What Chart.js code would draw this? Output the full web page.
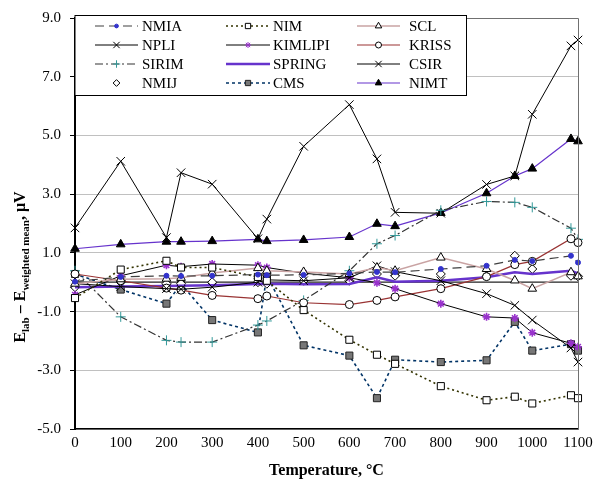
<!DOCTYPE html>
<html>
<head>
<meta charset="utf-8">
<script src="https://cdn.jsdelivr.net/npm/chart.js"></script>
<style>
    html, body { margin: 0; padding: 0; background: #fff; }
    #wrap { width: 601px; height: 482px; }
</style>
</head>
<body>
<div id="wrap"><canvas id="chart" width="601" height="482"></canvas></div>
<script>
// fixed points and intermediate temperatures, degC
var temps = [0, 100, 200, 231.9, 300, 400, 419.5, 500, 600, 660.3, 700, 800, 900, 961.8, 1000, 1084.6, 1100];

var labNames = ['NMIA', 'NIM', 'SCL', 'NPLI', 'KIMLIPI', 'KRISS', 'SIRIM', 'SPRING', 'CSIR', 'NMIJ', 'CMS', 'NIMT'];

// E_lab - E_weighted mean, uV
var nmia    = [0.02, 0.18, 0.22, 0.21, 0.22, 0.26, 0.24, 0.25, 0.3, 0.35, 0.34, 0.45, 0.56, 0.76, 0.72, 0.9, 0.67];
var nim     = [-0.54, 0.43, 0.73, 0.5, 0.5, 0.18, 0.05, -0.95, -1.96, -2.47, -2.78, -3.54, -4.02, -3.9, -4.13, -3.85, -3.95];
var scl     = [-0.05, 0.1, 0.12, 0.15, 0.31, 0.48, 0.39, 0.35, 0.28, 0.5, 0.39, 0.84, 0.45, 0.06, -0.22, 0.34, 0.2];
var npli    = [-0.05, -0.15, -0.22, -0.24, -0.17, 0.0, 0.08, 0.05, 0.15, 0.56, 0.36, 0.05, -0.39, -0.79, -1.29, -2.24, -2.72];
var kimlipi = [-0.43, 0.22, 0.58, 0.53, 0.62, 0.58, 0.5, 0.31, 0.15, -0.02, -0.22, -0.73, -1.18, -1.22, -1.72, -2.08, -2.2];
var kriss   = [0.28, 0.05, -0.2, -0.27, -0.45, -0.56, -0.47, -0.7, -0.76, -0.62, -0.5, -0.22, 0.19, 0.6, 0.71, 1.48, 1.35];
var sirim   = [0.39, -1.18, -1.98, -2.04, -2.04, -1.46, -1.32, -0.62, 0.39, 1.31, 1.59, 2.45, 2.75, 2.72, 2.55, 1.84, 1.46];
var spring  = [-0.17, -0.15, -0.13, -0.12, -0.1, -0.06, -0.05, -0.07, -0.06, 0.17, 0.02, 0.05, 0.17, 0.34, 0.28, 0.39, 0.3];
var csir    = [1.85, 4.12, 1.52, 3.73, 3.34, 1.48, 2.15, 4.63, 6.05, 4.2, 2.38, 2.35, 3.33, 3.62, 5.72, 8.05, 8.25];
var nmij    = [-0.17, 0.05, -0.05, -0.05, 0.0, 0.0, -0.05, 0.05, 0.05, 0.28, 0.22, 0.28, 0.2, 0.9, 0.45, 0.22, 0.2];
var cms     = [0.28, -0.25, -0.73, -0.06, -1.29, -1.71, 0.22, -2.15, -2.5, -3.95, -2.64, -2.72, -2.66, -1.35, -2.33, -2.11, -2.33];
var nimt    = [1.14, 1.29, 1.38, 1.38, 1.4, 1.46, 1.4, 1.44, 1.54, 1.99, 1.91, 2.36, 3.03, 3.62, 3.87, 4.88, 4.8];

var seriesValues = [nmia, nim, scl, npli, kimlipi, kriss, sirim, spring, csir, nmij, cms, nimt];

var xTicks = [0, 100, 200, 300, 400, 500, 600, 700, 800, 900, 1000, 1100];
var yTicks = [-5, -3, -1, 1, 3, 5, 7, 9];

var SERIF = "'Liberation Serif', 'Times New Roman', serif";

// line / marker look per lab
var styles = {
    NMIA:    { line: '#404040', width: 1.2, dash: [9, 5], pt: 'circle', r: 2.5, fill: '#3333cc', stroke: '#3333cc' },
    NIM:     { line: '#333300', width: 1.6, dash: [2, 3], pt: 'rect', r: 5, fill: '#fff', stroke: '#000' },
    SCL:     { line: '#c9a3a3', width: 1.5, dash: [], pt: 'triangle', r: 5, fill: '#fff', stroke: '#000' },
    NPLI:    { line: '#000', width: 1, dash: [], pt: 'crossRot', r: 6, fill: '#000', stroke: '#000' },
    KIMLIPI: { line: '#000', width: 1, dash: [], pt: 'star', r: 4, fill: '#9933cc', stroke: '#9933cc' },
    KRISS:   { line: '#993333', width: 1.2, dash: [], pt: 'circle', r: 4, fill: '#fff', stroke: '#000' },
    SIRIM:   { line: '#333', width: 1.2, dash: [8, 3, 2, 3], pt: 'cross', r: 5, fill: '#339999', stroke: '#339999' },
    SPRING:  { line: '#6633cc', width: 2.5, dash: [], pt: false, r: 0 },
    CSIR:    { line: '#000', width: 1, dash: [], pt: 'crossRot', r: 6, fill: '#000', stroke: '#000' },
    NMIJ:    { line: null, pt: 'rectRot', r: 4.5, fill: '#fff', stroke: '#000' },
    CMS:     { line: '#003366', width: 1.6, dash: [3, 3], pt: 'rect', r: 5, fill: '#777', stroke: '#222' },
    NIMT:    { line: '#6633cc', width: 1.2, dash: [], pt: 'triangle', r: 5, fill: '#000', stroke: '#000' }
};

var datasets = labNames.map(function (name, i) {
    var s = styles[name];
    return {
        label: name,
        data: temps.map(function (t, k) { return { x: t, y: seriesValues[i][k] }; }),
        showLine: !!s.line,
        borderColor: s.line || '#000',
        borderWidth: s.width || 1,
        borderDash: s.dash || [],
        tension: 0,
        pointStyle: s.pt || 'circle',
        pointRadius: s.pt ? s.r : 0,
        pointBackgroundColor: s.fill,
        pointBorderColor: s.stroke,
        pointBorderWidth: s.pt === 'star' ? 1.6 : 1,
        clip: false
    };
});

function marker(ctx, style, x, y, r) {
    var d = r * Math.SQRT1_2;
    ctx.beginPath();
    switch (style) {
        case 'circle':
            ctx.arc(x, y, r, 0, 2 * Math.PI);
            break;
        case 'rect':
            ctx.rect(x - d, y - d, 2 * d, 2 * d);
            break;
        case 'rectRot':
            ctx.moveTo(x, y - r); ctx.lineTo(x + r, y); ctx.lineTo(x, y + r); ctx.lineTo(x - r, y); ctx.closePath();
            break;
        case 'triangle':
            ctx.moveTo(x, y - r); ctx.lineTo(x + r * 0.87, y + r * 0.5); ctx.lineTo(x - r * 0.87, y + r * 0.5); ctx.closePath();
            break;
        case 'cross':
            ctx.moveTo(x - r, y); ctx.lineTo(x + r, y); ctx.moveTo(x, y - r); ctx.lineTo(x, y + r);
            ctx.stroke(); return;
        case 'crossRot':
            ctx.moveTo(x - d, y - d); ctx.lineTo(x + d, y + d); ctx.moveTo(x + d, y - d); ctx.lineTo(x - d, y + d);
            ctx.stroke(); return;
        case 'star':
            ctx.moveTo(x - r, y); ctx.lineTo(x + r, y); ctx.moveTo(x, y - r); ctx.lineTo(x, y + r);
            ctx.moveTo(x - d, y - d); ctx.lineTo(x + d, y + d); ctx.moveTo(x + d, y - d); ctx.lineTo(x - d, y + d);
            ctx.stroke(); return;
    }
    ctx.fill();
    ctx.stroke();
}

var decor = {
    id: 'decor',
    beforeDatasetsDraw: function (chart) {
        var ctx = chart.ctx, a = chart.chartArea;
        var y0 = chart.scales.y.getPixelForValue(0);
        ctx.save();
        ctx.strokeStyle = '#222';
        ctx.lineWidth = 1.3;
        ctx.beginPath();
        ctx.moveTo(a.left, y0);
        ctx.lineTo(a.right, y0);
        ctx.stroke();
        ctx.restore();
    },
    afterDraw: function (chart) {
        var ctx = chart.ctx, a = chart.chartArea;
        ctx.save();

        // top and right frame
        ctx.strokeStyle = '#707070';
        ctx.lineWidth = 1;
        ctx.beginPath();
        ctx.moveTo(a.left, a.top + 0.5);
        ctx.lineTo(a.right + 0.5, a.top + 0.5);
        ctx.lineTo(a.right + 0.5, a.bottom);
        ctx.stroke();

        // legend box
        var bx = a.left, by = 15.5, bw = 391.5, bh = 80;
        ctx.fillStyle = '#fff';
        ctx.fillRect(bx, by, bw, bh);
        ctx.strokeStyle = '#000';
        ctx.strokeRect(bx, by, bw, bh);

        var cols = [{ l0: 95, l1: 138, tx: 142 }, { l0: 226, l1: 270, tx: 273 }, { l0: 357, l1: 400, tx: 409 }];
        ctx.font = '15px ' + SERIF;
        ctx.textBaseline = 'alphabetic';
        ctx.textAlign = 'left';
        labNames.forEach(function (name, i) {
            var s = styles[name];
            var c = cols[i % 3];
            var ry = 26 + Math.floor(i / 3) * 19;
            if (s.line) {
                ctx.strokeStyle = s.line;
                ctx.lineWidth = s.width;
                ctx.setLineDash(s.dash);
                ctx.beginPath();
                ctx.moveTo(c.l0, ry);
                ctx.lineTo(c.l1, ry);
                ctx.stroke();
                ctx.setLineDash([]);
            }
            if (s.pt) {
                ctx.fillStyle = s.fill;
                ctx.strokeStyle = s.stroke;
                ctx.lineWidth = 1;
                marker(ctx, s.pt, (c.l0 + c.l1) / 2, ry, s.r * 0.75);
            }
            ctx.fillStyle = '#000';
            ctx.fillText(name, c.tx, ry + 5);
        });

        // x axis title
        ctx.fillStyle = '#000';
        ctx.font = 'bold 16px ' + SERIF;
        ctx.textAlign = 'center';
        ctx.fillText('Temperature, \u00b0C', (a.left + a.right) / 2, 475);

        // y axis title with subscripts
        var parts = [
            ['E', 16, 0], ['lab', 11, 4], [' \u2013 E', 16, 0], ['weighted mean', 11, 4], [', \u03bcV', 16, 0]
        ];
        var total = 0;
        parts.forEach(function (p) {
            ctx.font = 'bold ' + p[1] + 'px ' + SERIF;
            p.push(ctx.measureText(p[0]).width);
            total += p[3];
        });
        ctx.translate(20, 267);
        ctx.rotate(-Math.PI / 2);
        ctx.textAlign = 'left';
        var px = -total / 2;
        parts.forEach(function (p) {
            ctx.font = 'bold ' + p[1] + 'px ' + SERIF;
            ctx.fillText(p[0], px, 5 + p[2]);
            px += p[3];
        });
        ctx.restore();
    }
};

var chart = new Chart(document.getElementById('chart'), {
    type: 'line',
    data: { datasets: datasets },
    options: {
        responsive: false,
        animation: false,
        devicePixelRatio: 1,
        layout: { padding: { left: 0, right: 23, top: 13, bottom: 0 }, autoPadding: false },
        plugins: {
            legend: { display: false },
            tooltip: { enabled: false }
        },
        scales: {
            x: {
                type: 'linear',
                min: 0,
                max: 1100,
                afterBuildTicks: function (scale) {
                    scale.ticks = xTicks.map(function (v) { return { value: v }; });
                },
                afterFit: function (scale) { scale.height = 53; },
                grid: { display: false, drawTicks: false },
                border: { color: '#000', width: 1.5 },
                ticks: {
                    autoSkip: false,
                    maxRotation: 0,
                    padding: 5,
                    color: '#000',
                    font: { family: SERIF, size: 15 },
                    callback: function (v) { return String(v); }
                }
            },
            y: {
                type: 'linear',
                min: -5,
                max: 9,
                afterBuildTicks: function (scale) {
                    scale.ticks = yTicks.map(function (v) { return { value: v }; });
                },
                afterFit: function (scale) { scale.width = 75; },
                grid: { color: '#c0c0c0', tickColor: '#000', tickLength: 5 },
                border: { color: '#000', width: 2 },
                ticks: {
                    padding: 9,
                    color: '#000',
                    font: { family: SERIF, size: 15 },
                    callback: function (v) { return v.toFixed(1); }
                }
            }
        }
    },
    plugins: [decor]
});
</script>
</body>
</html>
